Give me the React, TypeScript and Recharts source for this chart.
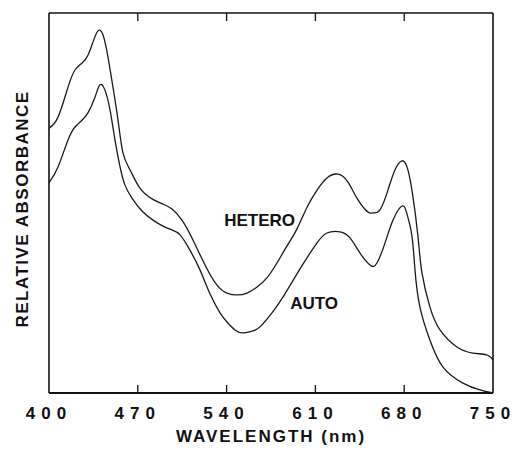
import {
  LineChart,
  Line,
  XAxis,
  YAxis,
  ReferenceDot,
  ReferenceLine,
} from "recharts";

const FONT = "'Liberation Sans', Arial, Helvetica, sans-serif";

const wavelengthTicks = [400, 470, 540, 610, 680, 750];

const heteroWavelengths = [
  400, 407.1, 415, 420.5, 426, 430.7, 434.7, 438.6, 442.6, 446.5, 450.4, 454.4,
  458.3, 463.9, 471.7, 481.2, 489.9, 497, 504.8, 512.7, 523, 532.4, 540.3,
  548.2, 556.1, 564, 571.8, 579.7, 587.6, 595.5, 603.4, 611.3, 619.1, 627.8,
  635.7, 643.6, 651.5, 655.4, 660.9, 667.2, 672.7, 678.3, 682.2, 686.1, 690.9,
  694, 700.3, 708.2, 721.6, 734.2, 745.3, 750,
];
const heteroAbsorbance = [
  69.7, 72.6, 80.5, 85.0, 86.8, 88.9, 92.4, 95.3, 94.2, 88.4, 80.5, 71.8,
  63.2, 58.7, 53.9, 51.1, 49.7, 48.4, 45.5, 40.8, 33.7, 28.4, 26.3,
  25.8, 26.3, 27.9, 30.3, 34.2, 38.7, 43.2, 48.9, 53.4, 56.6, 57.6,
  55.5, 50.8, 47.6, 47.4, 48.2, 53.4, 58.7, 61.1, 59.5, 53.4, 41.1,
  31.6, 22.6, 16.6, 12.1, 10.5, 10.0, 8.7,
];

const autoWavelengths = [
  400, 407.1, 415, 420.5, 426, 430.7, 436.3, 440.2, 444.1, 448.1, 452, 456,
  459.9, 465.4, 473.3, 482, 489.9, 497, 503.3, 511.1, 519, 526.9, 534.8, 540.3,
  546.6, 552.9, 560, 566.3, 575.8, 584.5, 600.2, 611.3, 619.1, 629.4, 637.3,
  645.2, 653, 658.5, 664.9, 671.2, 678.3, 682.2, 686.1, 688.5, 692.4, 700.3,
  710.6, 726.3, 739.7, 750,
];
const autoAbsorbance = [
  55.3, 59.5, 66.6, 70.0, 71.8, 73.7, 77.9, 81.1, 79.7, 74.5, 66.6, 59.5,
  54.7, 51.3, 47.9, 45.5, 43.9, 42.9, 41.6, 37.6, 32.4, 26.1, 21.1, 18.7,
  16.6, 15.8, 16.3, 17.4, 21.1, 25.3, 33.9, 39.5, 42.1, 42.4, 40.8,
  36.8, 33.7, 34.2, 39.5, 45.5, 49.2, 47.1, 41.3, 32.4, 22.6, 13.9,
  6.8, 2.6, 0.8, 0,
];

const heteroData = heteroWavelengths.map((wl, i) => ({ wl, v: heteroAbsorbance[i] }));
const autoData = autoWavelengths.map((wl, i) => ({ wl, v: autoAbsorbance[i] }));

const innerTicks = wavelengthTicks.slice(1, -1);

const BottomTick = (props: any) => {
  const { x, y, payload } = props;
  const chars = String(payload.value).split("");
  const step = 15.5;
  const cx = x - 3;
  return (
    <text
      y={y + 26}
      textAnchor="middle"
      fontFamily={FONT}
      fontWeight={700}
      fontSize={17}
      fill="#111"
    >
      {chars.map((c, i) => (
        <tspan key={i} x={cx + (i - (chars.length - 1) / 2) * step}>
          {c}
        </tspan>
      ))}
    </text>
  );
};

const YTitle = () => (
  <text
    x={22}
    y={209}
    transform="rotate(-90, 22, 209)"
    textAnchor="middle"
    dominantBaseline="central"
    fontFamily={FONT}
    fontWeight={700}
    fontSize={17}
    letterSpacing={1.5}
    fill="#111"
  >
    RELATIVE ABSORBANCE
  </text>
);

const XTitle = () => (
  <text
    x={271}
    y={442}
    textAnchor="middle"
    fontFamily={FONT}
    fontWeight={700}
    fontSize={17}
    letterSpacing={2}
    fill="#111"
  >
    WAVELENGTH  (nm)
  </text>
);

const curveLabel = (value: string) => ({
  value,
  position: "center" as const,
  fill: "#111",
  fontSize: 17,
  fontWeight: 700,
  fontFamily: FONT,
});

export default function App() {
  return (
    <div style={{ position: "absolute", left: 0, top: 0, background: "#fff" }}>
      <LineChart
        width={512}
        height={453}
        margin={{ top: 12, right: 18, bottom: 0, left: 0 }}
      >
        <XAxis
          dataKey="wl"
          type="number"
          domain={[400, 750]}
          ticks={wavelengthTicks}
          allowDataOverflow
          height={60}
          tickSize={0}
          tickMargin={0}
          tickLine={false}
          tick={<BottomTick />}
          axisLine={{ stroke: "#111", strokeWidth: 2 }}
          label={<XTitle />}
        />
        <XAxis
          xAxisId="top"
          orientation="top"
          dataKey="wl"
          type="number"
          domain={[400, 750]}
          allowDataOverflow
          height={1}
          tick={false}
          tickLine={false}
          axisLine={{ stroke: "#111", strokeWidth: 1.3 }}
        />
        <YAxis
          type="number"
          domain={[0, 100]}
          allowDataOverflow
          width={49}
          tick={false}
          tickLine={false}
          axisLine={{ stroke: "#111", strokeWidth: 1.6 }}
          label={<YTitle />}
        />
        <YAxis
          yAxisId="right"
          orientation="right"
          type="number"
          domain={[0, 100]}
          allowDataOverflow
          width={1}
          tick={false}
          tickLine={false}
          axisLine={{ stroke: "#111", strokeWidth: 1.6 }}
        />
        {innerTicks.map((t) => (
          <ReferenceLine
            key={`b${t}`}
            segment={[{ x: t, y: 0 }, { x: t, y: 2.1 }]}
            stroke="#111"
            strokeWidth={1.3}
          />
        ))}
        {innerTicks.map((t) => (
          <ReferenceLine
            key={`t${t}`}
            segment={[{ x: t, y: 100 }, { x: t, y: 97.9 }]}
            stroke="#111"
            strokeWidth={1.3}
          />
        ))}
        <Line
          data={heteroData}
          dataKey="v"
          type="natural"
          stroke="#1a1a1a"
          strokeWidth={1.3}
          dot={false}
          isAnimationActive={false}
        />
        <Line
          data={autoData}
          dataKey="v"
          type="natural"
          stroke="#1a1a1a"
          strokeWidth={1.3}
          dot={false}
          isAnimationActive={false}
        />
        <ReferenceDot x={566} y={45.5} r={0} fill="none" stroke="none" label={curveLabel("HETERO")} />
        <ReferenceDot x={609} y={23.7} r={0} fill="none" stroke="none" label={curveLabel("AUTO")} />
      </LineChart>
    </div>
  );
}
